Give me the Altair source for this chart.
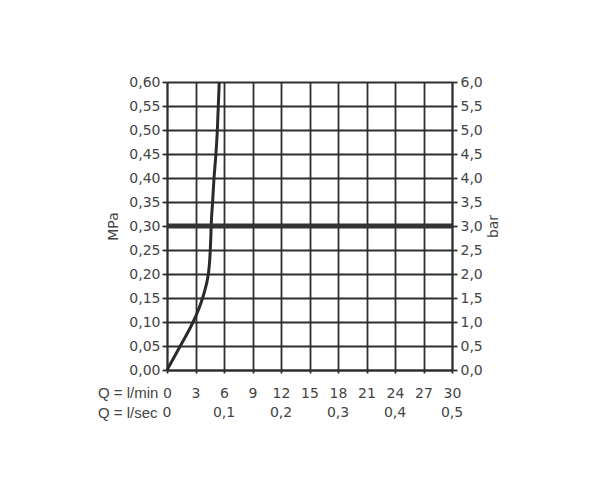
import altair as alt
import pandas as pd

# Curve: flow (l/min) vs pressure (MPa)
flow_lmin = [0.0, 0.7, 1.4, 2.1, 2.75, 3.3, 3.75, 4.1, 4.35, 4.5, 4.6, 4.65, 4.8, 4.95, 5.15, 5.3, 5.5]
press_mpa = [0.0, 0.025, 0.05, 0.075, 0.10, 0.125, 0.15, 0.175, 0.20, 0.23, 0.27, 0.30, 0.35, 0.40, 0.45, 0.50, 0.60]

ref_mpa = [0.30]
lmin_ticks = [0, 3, 6, 9, 12, 15, 18, 21, 24, 27, 30]
lsec_vals = [0, 0.1, 0.2, 0.3, 0.4, 0.5]
lsec_labels = ["0", "0,1", "0,2", "0,3", "0,4", "0,5"]
mpa_ticks = [round(i * 0.05, 2) for i in range(13)]
bar_ticks = [round(i * 0.5, 1) for i in range(13)]

FONT = "DejaVu Sans"
FS = 14
GREY = "#444444"
LINE = "#2e2e2e"
LW = 1.8
W, H = 285, 288

curve = pd.DataFrame({"q": flow_lmin, "p": press_mpa, "o": list(range(len(flow_lmin)))})
ref = pd.DataFrame({"p": ref_mpa})
lsec = pd.DataFrame({"q": [v * 60 for v in lsec_vals], "t": lsec_labels})
rowlab = pd.DataFrame({"t": ["Q = l/min", "Q = l/sec"], "y": [H + 23, H + 43]})
bars = pd.DataFrame({"b": [0.0, 6.0]})

xscale = alt.Scale(domain=[0, 30], nice=False, zero=False)
yscale = alt.Scale(domain=[0, 0.6], nice=False)

xaxis = alt.Axis(values=lmin_ticks, title=None, grid=True, gridColor=LINE, gridWidth=LW,
                 domainColor=LINE, domainWidth=LW, tickColor=LINE, tickSize=3, tickWidth=LW,
                 labelFont=FONT, labelFontSize=FS, labelColor=GREY, labelPadding=13,
                 labelOverlap=False, labelFlush=False)
yaxis = alt.Axis(values=mpa_ticks, title="MPa", grid=True, gridColor=LINE, gridWidth=LW,
                 domainColor=LINE, domainWidth=LW, tickColor=LINE, tickSize=5, tickWidth=LW,
                 labelExpr="replace(format(datum.value, '.2f'), '.', ',')",
                 labelFont=FONT, labelFontSize=FS, labelColor=GREY, labelPadding=2,
                 labelOverlap=False, labelFlush=False,
                 titleFont=FONT, titleFontSize=FS, titleColor=GREY, titleFontWeight="normal",
                 titleAngle=270, titleBaseline="middle", titleX=-54, titleY=H / 2)

base_line = alt.Chart(curve).mark_line(color="#2a2a2a", strokeWidth=3, interpolate="monotone").encode(
    x=alt.X("q:Q", scale=xscale, axis=xaxis),
    y=alt.Y("p:Q", scale=yscale, axis=yaxis),
    order="o:O",
)

ref_rule = alt.Chart(ref).mark_rule(color="#333", strokeWidth=5).encode(
    y=alt.Y("p:Q", scale=yscale, axis=yaxis),
)

lsec_text = alt.Chart(lsec).mark_text(font=FONT, fontSize=FS, color=GREY, baseline="middle").encode(
    x=alt.X("q:Q", scale=xscale, axis=xaxis),
    y=alt.value(H + 43),
    text="t:N",
)

row_text = alt.Chart(rowlab).mark_text(font="Liberation Sans", fontSize=15, color=GREY,
                                       align="left", baseline="middle").encode(
    x=alt.value(-69),
    y=alt.Y("y:Q", scale=None),
    text="t:N",
)

left = alt.layer(base_line, ref_rule, lsec_text, row_text)

right = alt.Chart(bars).mark_point(opacity=0).encode(
    y=alt.Y("b:Q", scale=alt.Scale(domain=[0, 6], nice=False),
            axis=alt.Axis(orient="right", values=bar_ticks, title="bar", grid=False,
                          domainColor=LINE, domainWidth=LW, tickColor=LINE, tickSize=5, tickWidth=LW,
                          labelExpr="replace(format(datum.value, '.1f'), '.', ',')",
                          labelFont=FONT, labelFontSize=FS, labelColor=GREY, labelPadding=3,
                          labelOverlap=False, labelFlush=False,
                          titleFont=FONT, titleFontSize=FS, titleColor=GREY, titleFontWeight="normal",
                          titleAngle=270, titleBaseline="middle", titleX=41, titleY=H / 2)),
)

chart = alt.layer(left, right).resolve_scale(y="independent").properties(
    width=W, height=H,
    autosize=alt.AutoSizeParams(type="none"),
    padding={"left": 159, "top": 74, "right": 140, "bottom": 100},
    background="white",
).configure_view(stroke=None)

chart.save("out.html", embed_options={"renderer": "svg", "actions": False})
